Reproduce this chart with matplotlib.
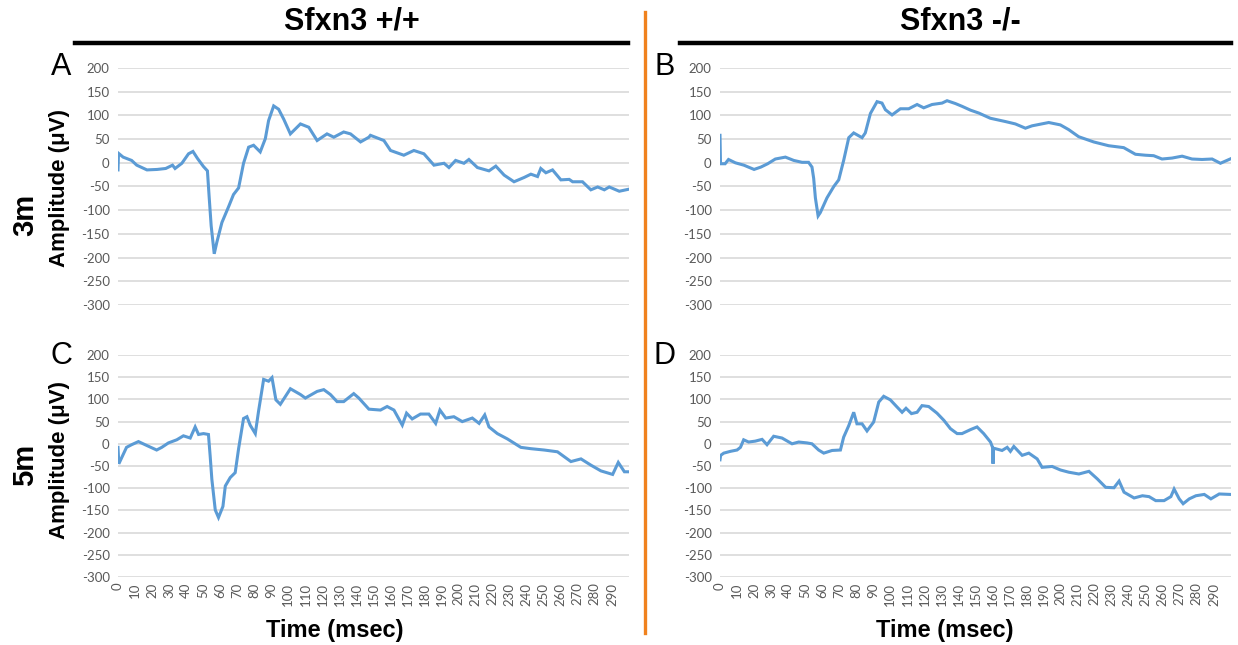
import matplotlib
matplotlib.use("Agg")
import matplotlib.pyplot as plt
from matplotlib.lines import Line2D

W, H = 1238, 645

# ---- ERG traces: time (ms) and amplitude (µV) ----
t_a = [0, 0.3, 3, 8, 11, 17, 23, 28, 32, 33.5, 37.5, 41.4, 44, 46.7, 50.2, 52.5, 53.5, 54.7, 56.5,
       58, 61, 65, 67.8, 70.8, 73.7, 76.7, 79.6, 83.5, 86.5, 88.4, 91.4, 94.3, 97.3, 101.2, 107.1,
       112, 116.9, 122.7, 126.7, 132.5, 136.5, 142.4, 147.3, 148.2, 156.1, 160, 167.8, 173.7, 179.6,
       185.5, 191.4, 194.3, 198.2, 203.1, 206, 211, 217.8, 221.8, 226.7, 232.5, 238.4, 242.4, 246.3,
       248.2, 251.2, 255.1, 260, 264.9, 266.9, 272.7, 277.6, 281.6, 285.5, 288.4, 294.3, 299.5]
v_a = [-15, 20, 12, 5, -5, -15, -14, -12, -5, -12, -1, 19, 24, 9, -8, -17, -71, -133, -192,
       -168, -126, -92, -67, -53, -1, 33, 37, 23, 51, 89, 120, 113, 92, 61, 82,
       75, 47, 61, 54, 65, 61, 44, 54, 58, 47, 26, 16, 26, 19,
       -5, -1, -10, 5, -1, 7, -10, -17, -7, -26, -40, -31, -24, -29,
       -12, -21, -15, -36, -35, -40, -40, -57, -51, -57, -51, -60, -56]

t_b = [0, 0.3, 3, 5, 9, 14, 20, 24, 28, 32.5, 38.4, 43.3, 48.2, 52, 54, 55, 56, 57.6, 58.9, 62.8,
       66.8, 69.7, 72.6, 75.6, 78.5, 83.4, 85.3, 88.3, 92.2, 95.1, 97.1, 101, 105.9, 110.8, 115.7,
       119.6, 124.5, 130.4, 133.3, 138.2, 142.2, 147.1, 151.9, 158.7, 167.6, 173.4, 179.3, 183.2,
       193, 199.8, 204.7, 210.6, 219.4, 228.2, 237, 243.9, 249.7, 254.6, 259.5, 265.4, 271.3,
       277.1, 283, 288.9, 293.8, 299.5]
v_b = [58, -2, -2, 7, 0, -5, -14, -9, -2, 8, 12, 5, 1, 1, -9, -33, -74, -112, -105, -74,
       -50, -36, 5, 53, 63, 53, 63, 104, 129, 126, 112, 101, 114, 114, 123,
       116, 123, 126, 131, 125, 119, 111, 105, 94, 87, 82, 73, 78,
       85, 80, 70, 55, 44, 36, 32, 18, 16, 15, 8, 10, 14,
       8, 7, 8, -1, 8]

t_c = [0, 0.5, 2.2, 5, 8, 12, 17, 22.7, 25.7, 29.6, 34.5, 38.4, 42.4, 45.3, 47.3, 50.2, 53.1,
       54.1, 55.1, 57.1, 59, 61.6, 63, 65.9, 68.8, 70.8, 73.7, 75.7, 77.6, 80.6, 82.5, 85.5,
       88.4, 90.4, 92.7, 95.3, 101.2, 107.1, 110, 116.9, 120.8, 124.7, 128.6, 132.5, 138.4,
       141.4, 147.3, 154.1, 158, 162, 166.9, 169.4, 172.7, 177.6, 182.5, 186.5, 189, 192.4,
       197.2, 202.1, 208, 212, 215.3, 217.8, 222.7, 228.6, 236.5, 242.4, 250.2, 258, 265.9,
       271.8, 277.6, 283.5, 290.4, 293.7, 297.3, 299.5]
v_c = [-8, -45, -31, -8, -2, 5, -4, -14, -8, 2, 9, 18, 13, 38, 21, 23, 21,
       -27, -80, -149, -166, -141, -95, -76, -65, -11, 57, 61, 42, 23, 73, 145,
       141, 149, 99, 89, 124, 111, 103, 118, 122, 111, 95, 95, 113,
       103, 78, 76, 84, 76, 42, 69, 56, 67, 67, 46, 76, 58,
       61, 50, 58, 46, 65, 38, 23, 11, -8, -11, -14, -18, -40,
       -34, -48, -61, -69, -42, -63, -63]

t_d = [0, 0.4, 2.2, 6.1, 10, 12, 13.9, 16.8, 20.7, 24.7, 27.6, 31.5, 36.4, 42.3, 46.2, 51.1,
       54, 57.9, 60.9, 65.8, 70.7, 72.6, 75.6, 78.5, 80.4, 83.4, 86.3, 90.2, 93.2, 96.1, 100,
       103.9, 106.9, 109.2, 112.4, 115.7, 118.6, 122.5, 127.4, 131.4, 135.3, 139.2, 142.1,
       147.1, 150.9, 154.8, 158.8, 160, 160.3, 160.6, 161.7, 165.6, 168.6, 170.5, 172.5,
       177.4, 181.3, 186.2, 189.1, 195, 199.9, 204.8, 210.7, 216.6, 221.5, 226.4, 231.3,
       234.3, 237.2, 243.1, 248, 251.9, 255.8, 260.7, 264.7, 266.6, 269.6, 271.9, 275.5,
       279.4, 284.3, 288.2, 293.1, 299.5]
v_d = [-36, -26, -21, -17, -14, -8, 9, 4, 6, 10, -2, 17, 13, 0, 4, 2,
       0, -14, -21, -15, -14, 15, 41, 71, 45, 45, 29, 49, 94, 107, 99,
       83, 71, 80, 68, 71, 86, 84, 69, 53, 34, 23, 23,
       32, 38, 23, 4, -8, -45, -10, -11, -15, -8, -17, -6,
       -26, -21, -34, -53, -51, -59, -64, -68, -62, -79, -98, -99,
       -84, -109, -122, -117, -119, -128, -128, -119, -102, -124, -135, -124,
       -117, -114, -124, -113, -114]

y_ticks = [200, 150, 100, 50, 0, -50, -100, -150, -200, -250, -300]
x_ticks = list(range(0, 300, 10))

panel_letters = ["A", "B", "C", "D"]
genotypes = ["Sfxn3 +/+", "Sfxn3 -/-"]
ages = ["3m", "5m"]

LINE_BLUE = "#5B9BD5"
GRID = "#D9D9D9"
TICK_GRAY = "#595959"
ORANGE = "#F0821E"

plt.rcParams["font.family"] = ["Liberation Sans", "DejaVu Sans"]

fig = plt.figure(figsize=(W / 100, H / 100), dpi=100)
fig.patch.set_facecolor("white")


def fx(px):
    return px / W


def fy(py):
    return 1 - py / H


def make_axes(left, top, right, bottom):
    return fig.add_axes([fx(left), fy(bottom), fx(right - left), (bottom - top) / H])


traces = [(t_a, v_a), (t_b, v_b), (t_c, v_c), (t_d, v_d)]
boxes = [(118, 68, 629, 305), (720, 68, 1231, 305),
         (118, 355, 629, 577), (720, 355, 1231, 577)]

for i, ((t, v), box) in enumerate(zip(traces, boxes)):
    ax = make_axes(*box)
    ax.plot(t, v, color=LINE_BLUE, lw=2.2, solid_joinstyle="miter")
    ax.set_xlim(0, 300)
    ax.set_ylim(-300, 200)
    ax.set_yticks(y_ticks)
    ax.set_yticklabels([str(y) for y in y_ticks], family=["Lato", "DejaVu Sans"],
                       fontsize=9.5, color=TICK_GRAY)
    ax.grid(axis="y", color=GRID, lw=1.2)
    ax.set_axisbelow(True)
    for s in ax.spines.values():
        s.set_visible(False)
    ax.tick_params(axis="y", length=0, pad=6)
    if i >= 2:
        ax.set_xticks(x_ticks)
        ax.set_xticklabels([str(x) for x in x_ticks], rotation=90,
                           family=["Lato", "DejaVu Sans"], fontsize=9.5, color=TICK_GRAY)
        ax.tick_params(axis="x", length=0, pad=4)
    else:
        ax.set_xticks([])

# Column headers with underline bars
fig.text(fx(352), fy(21), genotypes[0], ha="center", va="center",
         fontsize=22, fontweight="bold")
fig.text(fx(960), fy(21), genotypes[1], ha="center", va="center",
         fontsize=22, fontweight="bold")
fig.add_artist(Line2D([fx(75), fx(628)], [fy(43), fy(43)], color="black", lw=3.2))
fig.add_artist(Line2D([fx(680), fx(1231)], [fy(43), fy(43)], color="black", lw=3.2))

# Divider between genotypes
fig.add_artist(Line2D([fx(645), fx(645)], [fy(12), fy(633)], color=ORANGE, lw=2.4))

# Row labels
fig.text(fx(25), fy(215), ages[0], rotation=90, ha="center", va="center",
         fontsize=21, fontweight="bold")
fig.text(fx(25), fy(465), ages[1], rotation=90, ha="center", va="center",
         fontsize=21, fontweight="bold")
fig.text(fx(60), fy(188), "Amplitude (μV)", rotation=90, ha="center", va="center",
         fontsize=16, fontweight="bold")
fig.text(fx(60), fy(460), "Amplitude (μV)", rotation=90, ha="center", va="center",
         fontsize=16, fontweight="bold")

# Panel letters
for letter, (px, py) in zip(panel_letters, [(61, 67), (665, 67), (61, 356), (665, 356)]):
    fig.text(fx(px), fy(py), letter, ha="center", va="center", fontsize=22)

# X axis titles
fig.text(fx(335), fy(630), "Time (msec)", ha="center", va="center",
         fontsize=17, fontweight="bold")
fig.text(fx(945), fy(630), "Time (msec)", ha="center", va="center",
         fontsize=17, fontweight="bold")

fig.savefig("out.png", dpi=100, facecolor="white")
